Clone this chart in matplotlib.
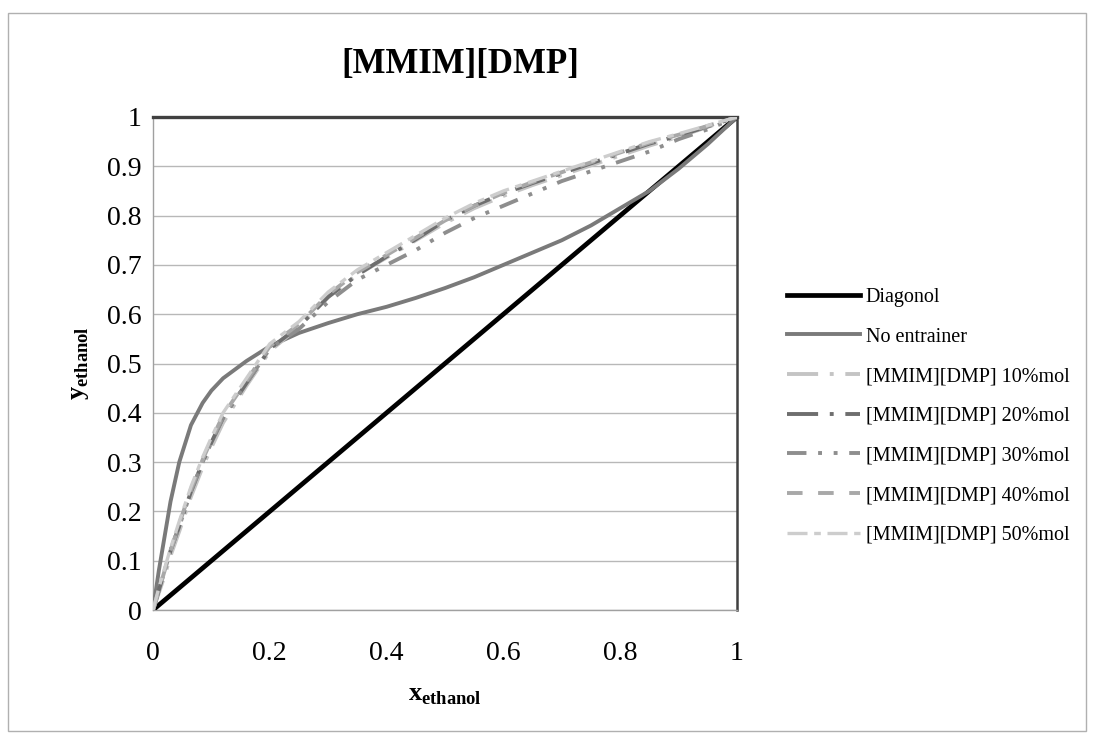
import matplotlib
matplotlib.use("Agg")
import matplotlib.pyplot as plt
from matplotlib.patches import Rectangle

plt.rcParams['font.family'] = ['Liberation Serif', 'DejaVu Serif']
plt.rcParams['mathtext.fontset'] = 'custom'
plt.rcParams['mathtext.rm'] = 'Liberation Serif'
plt.rcParams['mathtext.bf'] = 'Liberation Serif:bold'

title = "[MMIM][DMP]"
x_ticks = [0, 0.2, 0.4, 0.6, 0.8, 1]
y_ticks = [0, 0.1, 0.2, 0.3, 0.4, 0.5, 0.6, 0.7, 0.8, 0.9, 1]
y_tick_labels = ["0", "0.1", "0.2", "0.3", "0.4", "0.5", "0.6", "0.7", "0.8", "0.9", "1"]
x_tick_labels = ["0", "0.2", "0.4", "0.6", "0.8", "1"]

diag_x = [0, 1]
diag_y = [0, 1]

x_vals = [0, 0.01, 0.02, 0.03, 0.045, 0.065, 0.085, 0.10, 0.12, 0.16, 0.20, 0.25, 0.30, 0.35,
          0.40, 0.45, 0.50, 0.55, 0.60, 0.65, 0.70, 0.75, 0.80, 0.85, 0.90, 0.95, 1.0]
y_no_entrainer = [0, 0.08, 0.15, 0.22, 0.30, 0.375, 0.42, 0.445, 0.47, 0.505, 0.535, 0.562,
                  0.582, 0.60, 0.615, 0.633, 0.653, 0.675, 0.70, 0.725, 0.75, 0.78, 0.815,
                  0.85, 0.895, 0.945, 1.0]
y_10 = [0, 0.035, 0.07, 0.11, 0.16, 0.23, 0.29, 0.33, 0.38, 0.455, 0.525, 0.575, 0.635,
        0.68, 0.715, 0.75, 0.785, 0.815, 0.84, 0.862, 0.882, 0.902, 0.922, 0.942, 0.96,
        0.98, 1.0]
y_20 = [0, 0.04, 0.08, 0.12, 0.17, 0.24, 0.30, 0.34, 0.39, 0.46, 0.53, 0.575, 0.635,
        0.68, 0.717, 0.752, 0.79, 0.82, 0.845, 0.866, 0.886, 0.906, 0.926, 0.946, 0.962,
        0.981, 1.0]
y_30 = [0, 0.04, 0.08, 0.12, 0.17, 0.24, 0.30, 0.34, 0.39, 0.46, 0.53, 0.57, 0.625,
        0.67, 0.70, 0.73, 0.765, 0.795, 0.82, 0.845, 0.87, 0.89, 0.91, 0.93, 0.955, 0.975,
        1.0]
y_40 = [0, 0.04, 0.08, 0.12, 0.175, 0.245, 0.305, 0.345, 0.395, 0.465, 0.535, 0.58,
        0.64, 0.685, 0.72, 0.755, 0.79, 0.82, 0.846, 0.868, 0.888, 0.908, 0.928, 0.948,
        0.964, 0.982, 1.0]
y_50 = [0, 0.045, 0.085, 0.125, 0.18, 0.25, 0.31, 0.35, 0.40, 0.47, 0.54, 0.585, 0.645,
        0.69, 0.725, 0.76, 0.795, 0.825, 0.85, 0.87, 0.89, 0.91, 0.93, 0.95, 0.966, 0.983,
        1.0]

labels = ["Diagonol", "No entrainer", "[MMIM][DMP] 10%mol", "[MMIM][DMP] 20%mol",
          "[MMIM][DMP] 30%mol", "[MMIM][DMP] 40%mol", "[MMIM][DMP] 50%mol"]

fig = plt.figure(figsize=(10.97, 7.37), dpi=100)
fig.patches.append(Rectangle((8 / 1097, 6 / 737), 1078 / 1097, 718 / 737,
                             transform=fig.transFigure, fill=False,
                             edgecolor='#b0b0b0', linewidth=1.0))

ax = fig.add_axes([153 / 1097, 1 - 610 / 737, 584 / 1097, 493 / 737])

ax.plot(diag_x, diag_y, color='black', lw=3.4, label=labels[0], zorder=3)
ax.plot(x_vals, y_no_entrainer, color='#7a7a7a', lw=2.8, label=labels[1], zorder=3)
ax.plot(x_vals, y_10, color='#c4c4c4', lw=2.8, ls=(0, (8, 3, 1, 3)), label=labels[2], zorder=3)
ax.plot(x_vals, y_20, color='#6e6e6e', lw=2.8, ls=(0, (8, 3, 1, 3)), label=labels[3], zorder=3)
ax.plot(x_vals, y_30, color='#8e8e8e', lw=2.8, ls=(0, (5, 3, 1, 3, 1, 3)), label=labels[4], zorder=3)
ax.plot(x_vals, y_40, color='#a8a8a8', lw=2.8, ls=(0, (4, 4)), label=labels[5], zorder=3)
ax.plot(x_vals, y_50, color='#cdcdcd', lw=2.4, ls=(0, (6, 2, 2, 2)), label=labels[6], zorder=3)

ax.set_xlim(0, 1)
ax.set_ylim(0, 1)
ax.set_xticks(x_ticks)
ax.set_xticklabels(x_tick_labels)
ax.set_yticks(y_ticks)
ax.set_yticklabels(y_tick_labels)
ax.tick_params(length=0, labelsize=20)
ax.tick_params(axis='x', pad=22)
ax.tick_params(axis='y', pad=8)
ax.grid(axis='y', color='#b8b8b8', lw=1.0)
ax.set_axisbelow(True)

ax.spines['top'].set_color('#404040')
ax.spines['top'].set_linewidth(2.4)
ax.spines['right'].set_color('#404040')
ax.spines['right'].set_linewidth(1.8)
ax.spines['left'].set_color('#a0a0a0')
ax.spines['left'].set_linewidth(1.0)
ax.spines['bottom'].set_color('#a0a0a0')
ax.spines['bottom'].set_linewidth(1.0)

fig.text(460 / 1097, 1 - 64 / 737, title, ha='center', va='center',
         fontsize=25, fontweight='bold')
ax.set_xlabel(r'$\mathbf{x}_{\mathbf{ethanol}}$', fontsize=19, labelpad=14)
ax.set_ylabel(r'$\mathbf{y}_{\mathbf{ethanol}}$', fontsize=19, labelpad=12)

leg = ax.legend(loc='center left', bbox_to_anchor=(1.055, 0.393), frameon=False,
                fontsize=14.5, handlelength=3.6, handletextpad=0.3, labelspacing=1.02)

fig.savefig('out.png', dpi=100)
